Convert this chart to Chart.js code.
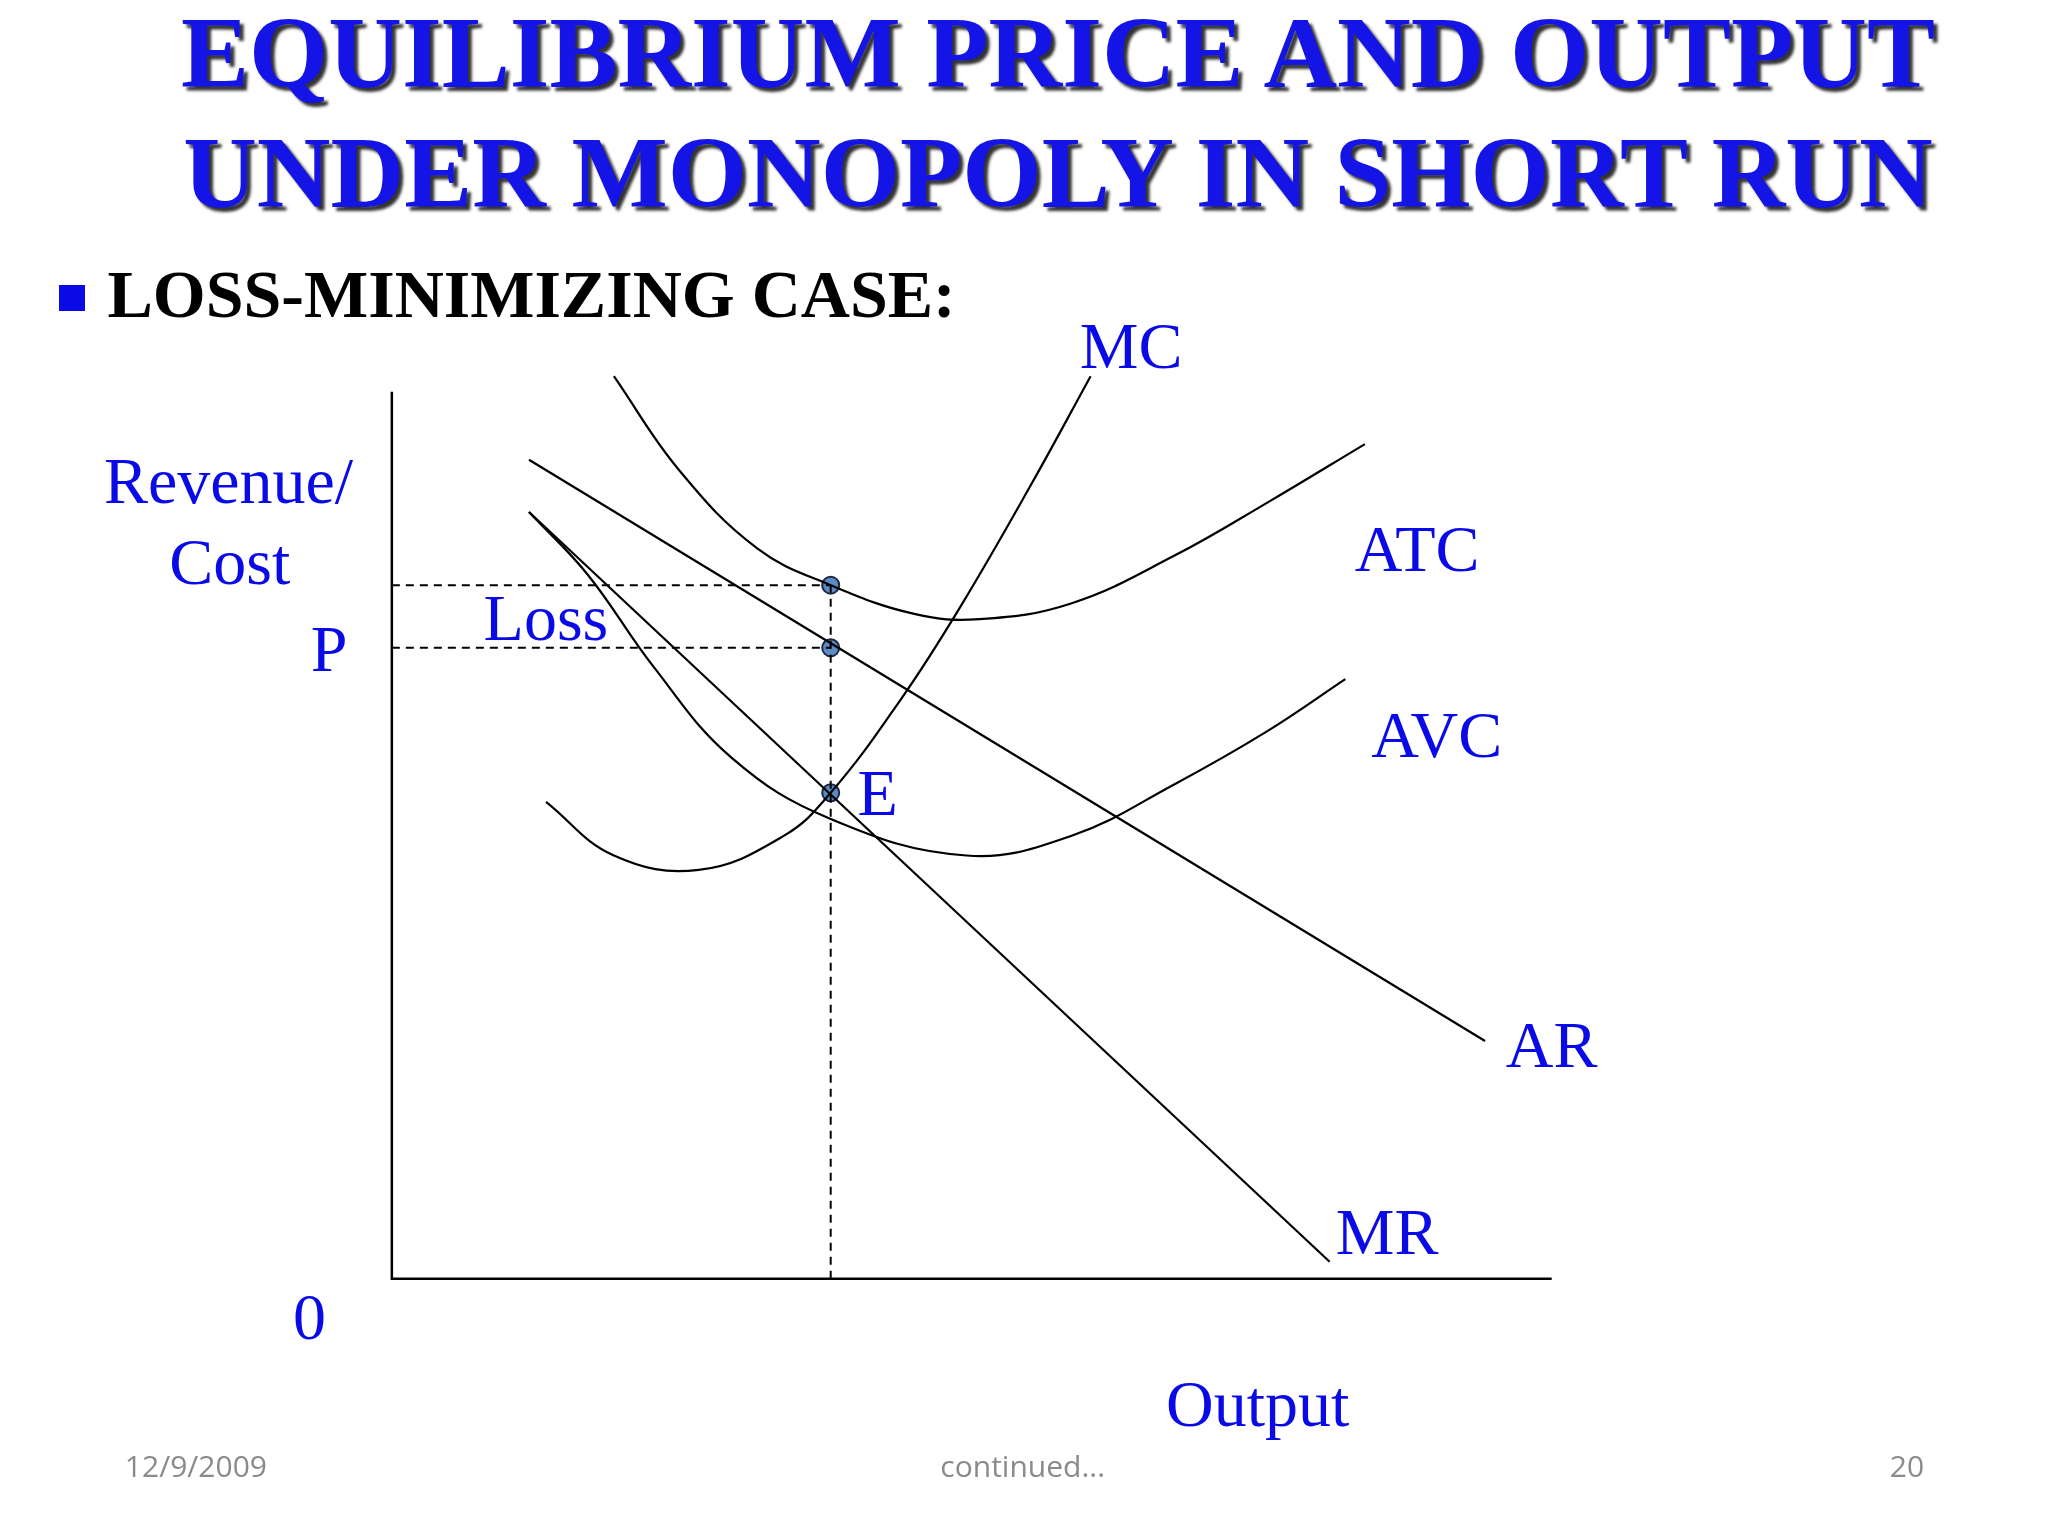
<!DOCTYPE html>
<html><head><meta charset="utf-8">
<script src="https://cdn.jsdelivr.net/npm/chart.js@4"></script>
<style>
html,body{margin:0;padding:0;background:#fff;width:2048px;height:1536px;overflow:hidden}
#wrap{position:relative;width:2048px;height:1536px}
canvas{position:absolute;left:0;top:0}
.t{position:absolute;transform:translate(-50%,-50%);white-space:nowrap;font-family:"Liberation Serif",serif;color:#0a0ae6}
</style></head><body>
<div id="wrap"><canvas id="c" width="2048" height="1536"></canvas></div>
<script>
// data (x = output, y = revenue/cost)
const mcX=[118,170,235,300,336,390,435,490,535];
const mcY=[365,324,313,339,372,444,514,609,691];
const atcX=[170,220,280,336,400,450,520,600,670,745];
const atcY=[691,619,559,531,509,505,517,554,594,639];
const avcX=[105,150,200,260,336,440,520,600,670,730];
const avcY=[587,539,469,399,352,324,339,379,419,459];
const arX=[105,837], arY=[627,182];
const mrX=[105,718], mrY=[587,13];
const eqQ=336, eqATC=531, eqP=483, eqE=372;
const axisMaxX=888, axisMaxY=700;

const S=2048/1568;
const pts=(xs,ys)=>xs.map((x,i)=>({x,y:ys[i]}));
const curve=(xs,ys,t)=>({data:pts(xs,ys),showLine:true,borderColor:'#000',borderWidth:2.2,pointRadius:0,fill:false,tension:t});
const dashed=(d)=>({data:d,showLine:true,borderColor:'#000',borderWidth:2,borderDash:[8,6],pointRadius:0,fill:false});
new Chart(document.getElementById('c'),{
 type:'scatter',
 data:{datasets:[
  {data:[{x:0,y:axisMaxY-21},{x:0,y:0},{x:axisMaxX,y:0}],showLine:true,borderColor:'#000',borderWidth:2.5,pointRadius:0,tension:0},
  dashed([{x:0,y:eqATC},{x:eqQ,y:eqATC}]),
  dashed([{x:0,y:eqP},{x:eqQ,y:eqP}]),
  dashed([{x:eqQ,y:0},{x:eqQ,y:eqATC}]),
  curve(mcX,mcY,0.4),
  curve(atcX,atcY,0.4),
  curve(avcX,avcY,0.4),
  curve(arX,arY,0),
  curve(mrX,mrY,0),
  {data:[{x:eqQ,y:eqATC},{x:eqQ,y:eqP},{x:eqQ,y:eqE}],showLine:false,pointRadius:8.5,pointBackgroundColor:'#5b8bc0',pointBorderColor:'#1a2a44',pointBorderWidth:2}
 ]},
 options:{responsive:false,animation:false,
  layout:{padding:{left:300*S,right:2048-(300+axisMaxX)*S,top:(979-axisMaxY)*S,bottom:1536-979*S}},
  plugins:{legend:{display:false},tooltip:{enabled:false}},
  scales:{x:{type:'linear',display:false,min:0,max:axisMaxX},y:{type:'linear',display:false,min:0,max:axisMaxY}},
  clip:false}
});
const F='66px "Liberation Serif"', B='#0a0ae6';
const labels=[
 ['EQUILIBRIUM PRICE AND OUTPUT',810,40,'bold 102px "Liberation Serif"','#1414e6',1],
 ['UNDER MONOPOLY IN SHORT RUN',810,132,'bold 102px "Liberation Serif"','#1414e6',1],
 ['LOSS-MINIMIZING CASE:',407,225,'bold 68px "Liberation Serif"','#000',0],
 ['MC',866,265,F,B,0],
 ['ATC',1085,420,F,B,0],
 ['AVC',1100,563,F,B,0],
 ['AR',1188,800,F,B,0],
 ['MR',1062,943,F,B,0],
 ['E',672,607,F,B,0],
 ['Loss',418,473,F,B,0],
 ['P',252,497,F,B,0],
 ['Revenue/',175,368,F,B,0],
 ['Cost',176,430,F,B,0],
 ['0',237,1008,F,B,0],
 ['Output',963,1075,F,B,0],
 ['12/9/2009',150,1122,'30px "Open Sans"','#8a8a8a',0],
 ['continued...',783,1122,'30px "Open Sans"','#8a8a8a',0],
 ['20',1460,1122,'30px "Open Sans"','#8a8a8a',0]
];
const w=document.getElementById('wrap');
labels.forEach(([t,x,y,f,c,sh])=>{const d=document.createElement('div');d.className='t';d.textContent=t;
 d.style.left=(x*S)+'px';d.style.top=(y*S)+'px';d.style.font=f;d.style.color=c;
 if(sh)d.style.textShadow='4px 4px 3px #333';w.appendChild(d);});
const b=document.createElement('div');b.style.cssText=`position:absolute;left:${45*S}px;top:${218*S}px;width:${20*S}px;height:${20*S}px;background:#0a0ae6`;w.appendChild(b);
</script></body></html>
